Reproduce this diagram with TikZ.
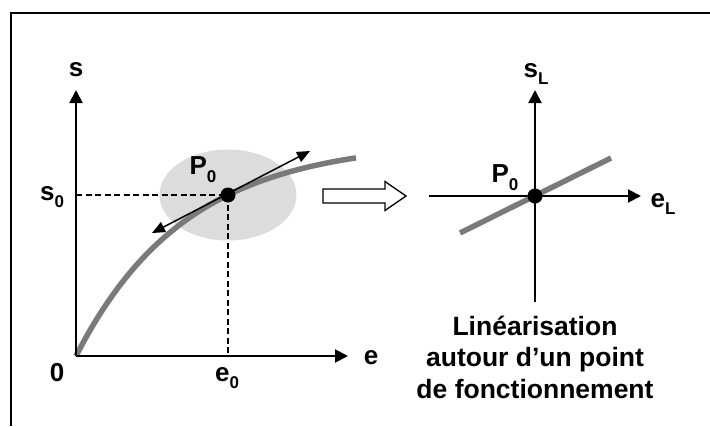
\documentclass[tikz,border=0pt]{standalone}
\usepackage{fontspec}
\setmainfont{Liberation Sans}
\usetikzlibrary{positioning, arrows.meta, shapes.geometric}
\definecolor{curvegray}{RGB}{122,122,122}
\definecolor{zonegray}{RGB}{220,220,220}
\newcommand{\ind}[2]{#1\raisebox{-0.3em}{\fontsize{17}{17}\selectfont #2}}

\begin{document}
\begin{tikzpicture}[x=1pt, y=-1pt,
		lbl/.style={font=\fontsize{26}{30}\selectfont\bfseries, inner sep=0pt},
		axis/.style={-{Triangle[length=13pt, width=13pt]}, line width=2pt},
		guide/.style={dash pattern=on 6pt off 3.5pt, line width=1.4pt},
		curve/.style={line width=5.5pt, draw=curvegray},
		tangent/.style={{Triangle[length=13pt, width=11pt]}-{Triangle[length=13pt, width=11pt]}, line width=1.5pt},
		dot/.style={circle, fill=black, minimum size=15pt, inner sep=0pt},
		zone/.style={ellipse, fill=zonegray, minimum width=137pt, minimum height=91pt, inner sep=0pt}
		]
		\useasboundingbox (0,0) rectangle (710,426);
		
		% ==========================================
		% FRAME
		% ==========================================
		\draw[line width=1.6pt] (11,426) -- (11,13) -- (710,13);
		
		% ==========================================
		% LEFT: nonlinear characteristic
		% ==========================================
		\coordinate (O) at (76,356);
		\coordinate (ytip) at (76,90);
		\coordinate (xtip) at (348,356);
		\coordinate (s0) at (76,195);
		\coordinate (e0) at (228,356);
		
		\node[zone] (zone) at (228,195) {};
		
		\draw[curve] plot[domain=0:280, samples=80] ({76+\x},{356-215*(1-exp(-\x/110))});
		
		\draw[axis] (O) -- (ytip);
		\draw[axis] (O) -- (xtip);
		
		\node[dot] (P) at (228,195) {};
		\draw[guide] (s0) -- (P.center);
		\draw[guide] (P.center) -- (e0);
		
		\coordinate (tl) at (152,233);
		\coordinate (tr) at (310,151);
		\draw[tangent] (tl) -- (tr);
		
		\node[lbl] (s_lbl) at (76,70) {s};
		\node[lbl] (s0_lbl) at (52,197) {\ind{s}{0}};
		\node[lbl] (P_lbl) at (203,170) {\ind{P}{0}};
		\node[lbl] (O_lbl) at (57,373) {0};
		\node[lbl] (e0_lbl) at (227,378) {\ind{e}{0}};
		\node[lbl] (e_lbl) at (371,358) {e};
		
		% ==========================================
		% HOLLOW ARROW
		% ==========================================
		\draw[line width=1.3pt, fill=white] (323,189) -- (385,189) -- (385,181.5) -- (406,196)
		-- (385,210.5) -- (385,203) -- (323,203) -- cycle;
		
		% ==========================================
		% RIGHT: linearised model
		% ==========================================
		\coordinate (OL) at (535,196);
		\coordinate (yLtip) at (535,90);
		\coordinate (yLbot) at (535,302);
		\coordinate (xLtip) at (641,196);
		\coordinate (xLleft) at (429,196);
		
		\draw[axis] (yLbot) -- (yLtip);
		\draw[axis] (xLleft) -- (xLtip);
		
		\coordinate (la) at (460,233);
		\coordinate (lb) at (611,158);
		\draw[curve] (la) -- (lb);
		
		\node[dot] (PL) at (OL) {};
		
		\node[lbl] (sL_lbl) at (536,74) {\ind{s}{L}};
		\node[lbl] (eL_lbl) at (663,204) {\ind{e}{L}};
		\node[lbl] (PL_lbl) at (505,178) {\ind{P}{0}};
		
		\node[font=\fontsize{26.5}{31.5}\selectfont\bfseries, align=center, inner sep=0pt] (caption) at (535,357)
		{Linéarisation\\autour d’un point\\de fonctionnement};
		
	\end{tikzpicture}
\end{document}
